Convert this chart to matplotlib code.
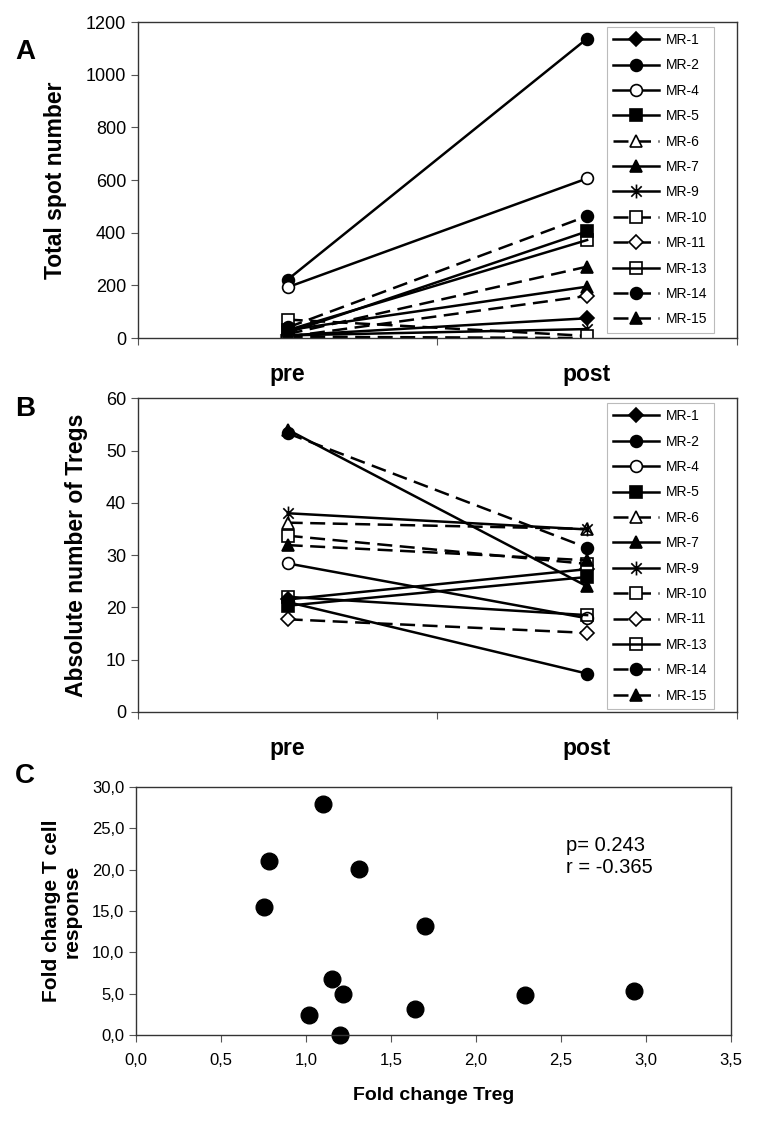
import matplotlib
matplotlib.use('Agg')
import matplotlib.pyplot as plt
from matplotlib.path import Path
from matplotlib.ticker import FuncFormatter

plt.rcParams['font.family'] = ['Liberation Sans', 'DejaVu Sans']

# patients
patients = ['MR-1', 'MR-2', 'MR-4', 'MR-5', 'MR-6', 'MR-7', 'MR-9', 'MR-10',
            'MR-11', 'MR-13', 'MR-14', 'MR-15']
timepoints = ['pre', 'post']

# A: total spot number
spots_pre = [10, 222, 193, 20, 5, 30, 10, 70, 5, 30, 40, 15]
spots_post = [75, 1137, 606, 405, 0, 195, 34, 8, 160, 372, 463, 271]

# B: absolute number of Tregs
tregs_pre = [21.5, 21.0, 28.4, 20.3, 36.2, 54.0, 38.0, 33.7, 17.7, 22.0, 53.3, 31.9]
tregs_post = [27.3, 7.3, 17.9, 25.8, 35.0, 24.0, 34.9, 28.3, 15.1, 18.5, 31.4, 29.0]

# C: fold changes
fold_treg = [1.10, 0.78, 1.31, 0.75, 1.15, 1.22, 1.02, 1.20, 1.70, 1.64, 2.29, 2.93]
fold_tcell = [28.0, 21.1, 20.1, 15.5, 6.8, 4.9, 2.4, 0.0, 13.2, 3.2, 4.8, 5.3]

# excel-like star (x plus vertical bar)
star = Path([(0, -1), (0, 1), (-0.75, -0.75), (0.75, 0.75), (-0.75, 0.75), (0.75, -0.75)],
            [Path.MOVETO, Path.LINETO, Path.MOVETO, Path.LINETO, Path.MOVETO, Path.LINETO])

# marker, face, linestyle, size
styles = [
    ('D', 'black', '-', 7),
    ('o', 'black', '-', 8.5),
    ('o', 'white', '-', 8.5),
    ('s', 'black', '-', 8),
    ('^', 'white', '--', 9),
    ('^', 'black', '-', 9),
    (star, 'none', '-', 10),
    ('s', 'white', '--', 8),
    ('D', 'white', '--', 7),
    ('s', 'none', '-', 8),
    ('o', 'black', '--', 8.5),
    ('^', 'black', '--', 9),
]

fig = plt.figure(figsize=(7.57, 11.23), dpi=100)
axA = fig.add_axes([0.1823, 0.699, 0.791, 0.2814])
axB = fig.add_axes([0.1823, 0.3662, 0.791, 0.2791])
axC = fig.add_axes([0.1797, 0.0784, 0.786, 0.2208])


def paired(ax, pre, post, ylim, step, ylabel, labx):
    for name, a, b, (m, fc, ls, ms) in zip(patients, pre, post, styles):
        ax.plot([0, 1], [a, b], color='black', lw=1.8, linestyle=ls,
                dashes=(6, 3) if ls == '--' else (None, None),
                marker=m, markersize=ms, markerfacecolor=fc,
                markeredgecolor='black', markeredgewidth=1.2, label=name)
    ax.set_xlim(-0.5, 1.5)
    ax.set_ylim(*ylim)
    ax.set_yticks(range(ylim[0], ylim[1] + 1, step))
    ax.set_xticks([0, 1], timepoints, fontsize=16.5, fontweight='bold')
    ax.set_xticks([-0.5, 0.5, 1.5], minor=True)
    ax.tick_params(axis='x', which='major', length=0, pad=18)
    ax.tick_params(axis='x', which='minor', length=5, width=0.8, color='#555555')
    ax.tick_params(axis='y', labelsize=13, length=5, width=0.8, color='#555555')
    for s in ax.spines.values():
        s.set_color('#333333')
        s.set_linewidth(1.0)
    ax.set_ylabel(ylabel, fontsize=16.5, fontweight='bold')
    ax.yaxis.set_label_coords(labx, 0.5)
    leg = ax.legend(loc='upper left', bbox_to_anchor=(0.783, 0.985), fontsize=10,
                    handlelength=3.3, handletextpad=0.5, labelspacing=0.82,
                    borderpad=0.45, borderaxespad=0, fancybox=False,
                    framealpha=1, edgecolor='#bbbbbb')
    leg.get_frame().set_linewidth(0.8)


paired(axA, spots_pre, spots_post, (0, 1200), 200, 'Total spot number', -0.118)
paired(axB, tregs_pre, tregs_post, (0, 60), 10, 'Absolute number of Tregs', -0.083)

# C scatter
axC.plot(fold_treg, fold_tcell, 'o', color='black', markersize=12, clip_on=False)
axC.set_xlim(0, 3.5)
axC.set_ylim(0, 30)
axC.set_xticks([i * 0.5 for i in range(8)])
axC.set_yticks([i * 5 for i in range(7)])
comma = FuncFormatter(lambda v, p: f'{v:.1f}'.replace('.', ','))
axC.xaxis.set_major_formatter(comma)
axC.yaxis.set_major_formatter(comma)
axC.tick_params(labelsize=12, length=5, width=0.8, color='#555555')
axC.tick_params(axis='x', pad=8)
for s in axC.spines.values():
    s.set_color('#333333')
    s.set_linewidth(1.0)
axC.set_ylabel('Fold change T cell\nresponse', fontsize=15, fontweight='bold', linespacing=1.1)
axC.yaxis.set_label_coords(-0.091, 0.5)
axC.set_xlabel('Fold change Treg', fontsize=14, fontweight='bold')
axC.xaxis.set_label_coords(0.5, -0.21)
axC.text(0.723, 0.72, 'p= 0.243\nr = -0.365', transform=axC.transAxes, fontsize=14.5,
         va='center', ha='left', linespacing=1.25)

# panel letters
for letter, y in [('A', 52), ('B', 409), ('C', 776)]:
    fig.text(15 / 757, 1 - y / 1123, letter, fontsize=20, fontweight='bold', va='center')

fig.savefig('out.png', dpi=100)
